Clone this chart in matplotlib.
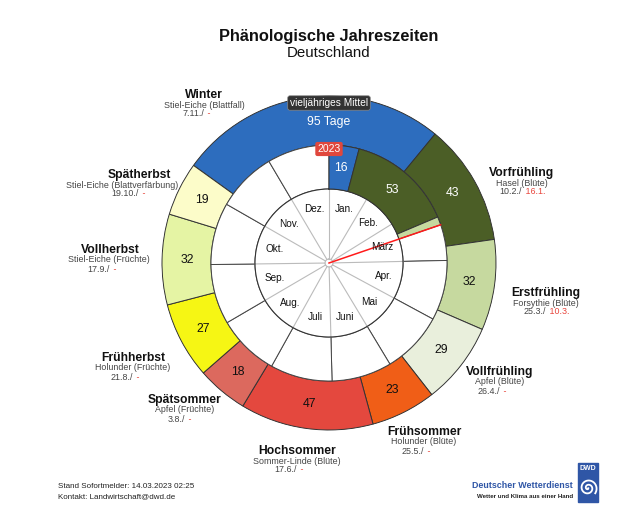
import numpy as np
import matplotlib.pyplot as plt

plt.rcParams['font.family'] = ['Liberation Sans', 'DejaVu Sans']

# data
seasons = ['Winter', 'Vorfrühling', 'Erstfrühling', 'Vollfrühling', 'Frühsommer',
           'Hochsommer', 'Spätsommer', 'Frühherbst', 'Vollherbst', 'Spätherbst']
plants = ['Stiel-Eiche (Blattfall)', 'Hasel (Blüte)', 'Forsythie (Blüte)', 'Apfel (Blüte)',
          'Holunder (Blüte)', 'Sommer-Linde (Blüte)', 'Apfel (Früchte)', 'Holunder (Früchte)',
          'Stiel-Eiche (Früchte)', 'Stiel-Eiche (Blattverfärbung)']
mean_dates = ['7.11.', '10.2.', '25.3.', '26.4.', '25.5.', '17.6.', '3.8.', '21.8.', '17.9.', '19.10.']
dates_2023 = ['-', '16.1.', '10.3.', '-', '-', '-', '-', '-', '-', '-']
mean_days = [95, 43, 32, 29, 23, 47, 18, 27, 32, 19]
days_2023 = [16, 53]
stand = '14.03.2023 02:25'
months = ['Jan.', 'Feb.', 'März', 'Apr.', 'Mai', 'Juni', 'Juli', 'Aug.', 'Sep.', 'Okt.', 'Nov.', 'Dez.']
month_len = [31, 28, 31, 30, 31, 30, 31, 31, 30, 31, 30, 31]

colors = ['#2d6dbe', '#4b5e26', '#c6d99f', '#e9efdc', '#f05e17',
          '#e4483e', '#dc695e', '#f6f614', '#e5f4a4', '#fcfcc9']
txt_colors = ['white', 'white'] + ['#111111'] * 8

# label positions (pixels): title x, plant x, y of title line
lab_pos = [(204, 204, 95), (522, 522, 173), (546, 546, 293), (500, 500, 372),
           (424, 424, 432), (297, 297, 451), (185, 185, 400), (133, 133, 358),
           (110, 109, 250), (139, 122, 175)]

cum = np.concatenate([[0], np.cumsum(month_len)[:-1]])


def doy(s):
    p = s.strip('.').split('.')
    return cum[int(p[1]) - 1] + int(p[0]) - 1


def th(d):
    return 2 * np.pi * d / 365.0


W, H = 631, 517
cx, cy, R = 329, 263, 168
fig = plt.figure(figsize=(W / 100, H / 100), dpi=100)
ax = fig.add_axes([(cx - R) / W, (H - cy - R) / H, 2 * R / W, 2 * R / H], projection='polar')
ax.set_theta_zero_location('N')
ax.set_theta_direction(-1)
ax.set_ylim(0, R)
ax.axis('off')

# outer ring: long-term mean
start0 = doy(mean_dates[0])
starts = (start0 + np.concatenate([[0], np.cumsum(mean_days)[:-1]])) % 365
ax.bar(th(starts), 49, width=th(np.array(mean_days)), bottom=118, align='edge',
       color=colors, edgecolor='#333333', linewidth=0.7, zorder=2)
for i in range(len(seasons)):
    if i == 0:
        ax.text(0, 141, f'{mean_days[i]} Tage', ha='center', va='center', fontsize=8.8,
                color=txt_colors[i], zorder=5)
    else:
        ax.text(th(starts[i] + mean_days[i] / 2), 142, str(mean_days[i]), ha='center',
                va='center', fontsize=8.8, color=txt_colors[i], zorder=5)

# inner ring: months (white) + 2023 segments
ax.bar(th(cum), 44, width=th(np.array(month_len)), bottom=74, align='edge',
       color='white', edgecolor='#444444', linewidth=0.7, zorder=2)
ax.bar(th(cum), 74, width=th(np.array(month_len)), bottom=0, align='edge',
       color='white', edgecolor='none', zorder=2)
for c in cum:
    ax.plot([th(c), th(c)], [4, 74], color='#bbbbbb', lw=0.8, zorder=3)
tt = np.linspace(0, 2 * np.pi, 400)
ax.plot(tt, np.full_like(tt, 74), color='#333333', lw=0.8, zorder=3)
ax.plot(tt, np.full_like(tt, 4), color='#bbbbbb', lw=0.8, zorder=3)
for i, m in enumerate(months):
    ax.text(th(cum[i] + month_len[i] / 2), 56, m, ha='center', va='center',
            fontsize=7.2, color='#111111', zorder=5)

d_now = doy(stand[:6]) + (2 + 25 / 60) / 24
s23 = [0, doy(dates_2023[1]), doy(dates_2023[2])]
e23 = [doy(dates_2023[1]), doy(dates_2023[2]), d_now]
ax.bar(th(np.array(s23)), 44, width=th(np.array(e23) - np.array(s23)), bottom=74,
       align='edge', color=colors[:3], edgecolor='#333333', linewidth=0.7, zorder=3)
for i, v in enumerate(days_2023):
    ax.text(th((s23[i] + e23[i]) / 2), 96, str(v), ha='center', va='center',
            fontsize=8.8, color='white', zorder=5)
ax.plot([th(d_now), th(d_now)], [0, 118], color='#ff1a1a', lw=1.1, zorder=4)

ax.text(0, 160, 'vieljähriges Mittel', ha='center', va='center', fontsize=7.3, color='white',
        zorder=6, bbox=dict(boxstyle='round,pad=0.22', fc='#333333', ec='#888888', lw=0.5))
ax.text(0, 114, '2023', ha='center', va='center', fontsize=7.5, color='white', zorder=6,
        bbox=dict(boxstyle='round,pad=0.2', fc='#e0473d', ec='none'))

# overlay in pixel coordinates for the texts
ov = fig.add_axes([0, 0, 1, 1], zorder=10)
ov.set_xlim(0, W)
ov.set_ylim(H, 0)
ov.axis('off')
ov.patch.set_alpha(0)

ov.text(329, 36, 'Phänologische Jahreszeiten', ha='center', va='center', fontsize=11.8,
        fontweight='bold', color='#111111')
ov.text(329, 53, 'Deutschland', ha='center', va='center', fontsize=10.8, color='#111111')

for i, s in enumerate(seasons):
    tx, px, ty = lab_pos[i]
    ov.text(tx, ty, s, ha='center', va='center', fontsize=8.7, fontweight='bold', color='#111111')
    ov.text(px, ty + 10, plants[i], ha='center', va='center', fontsize=6.4, color='#444444')
    ov.text(tx, ty + 19, mean_dates[i] + '/', ha='right', va='center', fontsize=6.4, color='#444444')
    ov.text(tx + 1, ty + 19, ' ' + dates_2023[i], ha='left', va='center', fontsize=6.4,
            color='#e8453c')

ov.text(58, 487, 'Stand Sofortmelder: ' + stand, ha='left', va='center', fontsize=5.8, color='#222222')
ov.text(58, 497, 'Kontakt: Landwirtschaft@dwd.de', ha='left', va='center', fontsize=5.8, color='#222222')

# DWD logo
ov.text(573, 485, 'Deutscher Wetterdienst', ha='right', va='center', fontsize=6.4,
        fontweight='bold', color='#2f56a6')
ov.text(573, 496, 'Wetter und Klima aus einer Hand', ha='right', va='center', fontsize=4.4,
        fontweight='bold', color='#222222')
ov.add_patch(plt.Rectangle((578, 463), 20, 39, color='#2f56a6'))
ov.text(588, 469, 'DWD', ha='center', va='center', fontsize=5, fontweight='bold', color='white')
ts = np.linspace(0.6, 4.2 * np.pi, 200)
rs = 0.68 * ts
ov.plot(588 + rs * np.cos(ts), 488 + rs * np.sin(ts), color='white', lw=1.3)

fig.savefig('out.png', dpi=100)
